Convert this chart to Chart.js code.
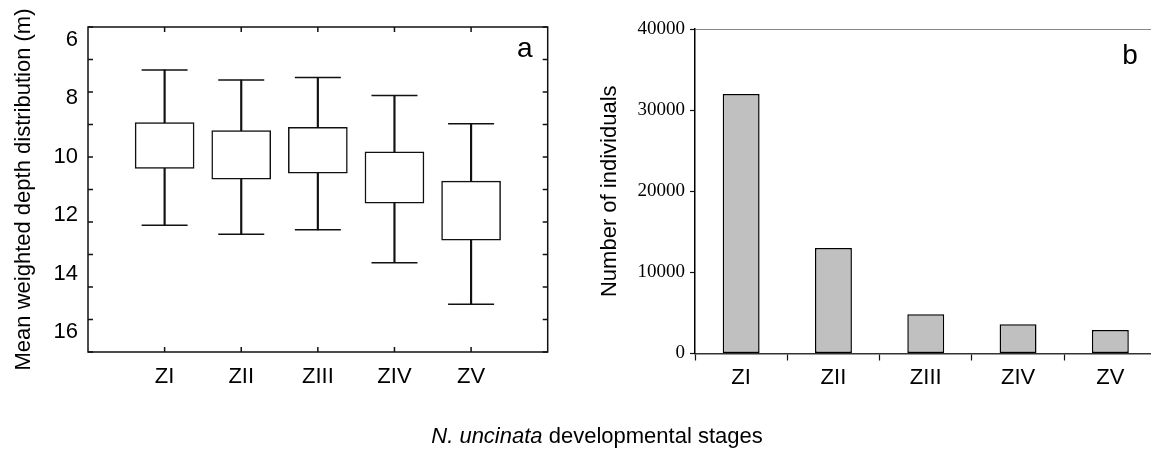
<!DOCTYPE html>
<html>
<head>
<meta charset="utf-8">
<script src="https://cdn.jsdelivr.net/npm/chart.js@4.4.0/dist/chart.umd.min.js"></script>
<style>
  html, body { margin:0; padding:0; background:#fff; overflow:hidden; width:1151px; height:456px; }
  #wrap { position:relative; width:1151px; height:456px; overflow:hidden; }
  #depth-chart { position:absolute; left:0; top:0; }
  #count-chart { position:absolute; left:560px; top:0; }
  #xtitle { position:absolute; left:0; width:1194px; top:423px; line-height:24px; text-align:center;
            font:22px "Liberation Sans", Arial, sans-serif; color:#000; white-space:nowrap; }
</style>
</head>
<body>
<div id="wrap">
  <canvas id="depth-chart" width="560" height="456"></canvas>
  <canvas id="count-chart" width="600" height="456"></canvas>
  <div id="xtitle"><i>N. uncinata</i> developmental stages</div>
</div>
<script>
// data
const stages = ['ZI', 'ZII', 'ZIII', 'ZIV', 'ZV']
const whiskerTop = [7.32, 7.63, 7.55, 8.11, 8.98]
const boxTop = [8.94, 9.19, 9.09, 9.84, 10.74]
const meanDepth = [9.61, 9.92, 9.86, 10.59, 11.65]
const boxBottom = [10.35, 10.68, 10.50, 11.42, 12.56]
const whiskerBottom = [12.10, 12.38, 12.24, 13.25, 14.53]
const depthLabels = [6, 8, 10, 12, 14, 16]
const individuals = [32000, 13000, 4850, 3600, 2900]
const countLabels = [0, 10000, 20000, 30000, 40000]
const panelLetters = ['a', 'b']

const SANS = '"Liberation Sans", Arial, sans-serif'
const SERIF = '"Liberation Serif", "Times New Roman", serif'
Chart.defaults.font.family = SANS
Chart.defaults.color = '#000'

function el(id){ return document.getElementById(id) }

// panel a: frame with inward ticks + letter
const frameTicks = {
  id: 'frameTicks',
  afterDatasetsDraw(chart) {
    const {ctx, chartArea: a, scales: {x, y}} = chart
    ctx.save()
    ctx.strokeStyle = '#111'
    ctx.lineWidth = 1.5
    ctx.strokeRect(a.left, a.top, a.width, a.height)
    ctx.beginPath()
    for(let v = y.min; v <= y.max; v++) {
      const py = y.getPixelForValue(v)
      ctx.moveTo(a.left, py); ctx.lineTo(a.left + 5, py)
      ctx.moveTo(a.right, py); ctx.lineTo(a.right - 5, py)
    }
    stages.forEach((s, i) => {
      const px = x.getPixelForValue(i + 1)
      ctx.moveTo(px, a.top); ctx.lineTo(px, a.top + 5)
      ctx.moveTo(px, a.bottom); ctx.lineTo(px, a.bottom - 5)
    })
    ctx.stroke()
    ctx.fillStyle = '#000'
    ctx.font = '28px ' + SANS
    ctx.textAlign = 'center'
    ctx.textBaseline = 'middle'
    ctx.fillText(panelLetters[0], a.right - 23, a.top + 22)
    ctx.restore()
  }
}

const letterB = {
  id: 'letterB',
  afterDraw(chart) {
    const {ctx, chartArea: a} = chart
    ctx.save()
    ctx.fillStyle = '#000'
    ctx.font = '28px ' + SANS
    ctx.textAlign = 'center'
    ctx.textBaseline = 'middle'
    ctx.fillText(panelLetters[1], a.right - 26.5, a.top + 27)
    ctx.restore()
  }
}

const pts = arr => arr.map((v, i) => ({x: i + 1, y: v}))
const span = (lo, hi) => lo.map((v, i) => ({x: i + 1, y: [v, hi[i]]}))

const depthChart = new Chart(el('depth-chart').getContext('2d'), {
  type: 'bar',
  data: {
    datasets: [
      { data: span(whiskerTop, boxTop), backgroundColor: '#111', borderWidth: 0, barThickness: 1.5, grouped: false },
      { data: span(boxBottom, whiskerBottom), backgroundColor: '#111', borderWidth: 0, barThickness: 1.5, grouped: false },
      { data: span(boxTop, boxBottom), backgroundColor: '#fff', borderColor: '#111', borderWidth: 1.5,
        borderSkipped: false, barThickness: 59, grouped: false },
      { type: 'scatter', data: pts(whiskerTop).concat(pts(whiskerBottom)), pointStyle: 'line',
        radius: 23, borderColor: '#111', borderWidth: 1.5 },
      { type: 'scatter', data: pts(meanDepth), pointStyle: 'rect', radius: 1, backgroundColor: '#000', borderWidth: 0 }
    ]
  },
  options: {
    responsive: false,
    animation: false,
    layout: { autoPadding: false, padding: { top: 27, right: 12.3, left: 0, bottom: 0 } },
    plugins: { legend: { display: false }, tooltip: { enabled: false } },
    scales: {
      x: {
        type: 'linear', min: 0, max: 6, offset: false,
        grid: { display: false, drawTicks: false },
        border: { display: false },
        ticks: { stepSize: 1, autoSkip: false, maxRotation: 0, padding: 12,
                 font: { size: 22 }, callback: v => stages[v - 1] || '' },
        afterFit: s => { s.height = 104 }
      },
      // data axis (hidden), the labelled axis below carries the printed tick labels
      y: { type: 'linear', reverse: true, min: 6, max: 16, display: false },
      yl: {
        type: 'linear', position: 'left', reverse: true, min: 5.555, max: 16.685,
        grid: { display: false, drawTicks: false },
        border: { display: false },
        afterBuildTicks: s => { s.ticks = depthLabels.map(v => ({value: v})) },
        ticks: { autoSkip: false, padding: 10, font: { size: 22 } },
        title: { display: true, text: 'Mean weighted depth distribution (m)', font: { size: 22 },
                 padding: { top: 10.8, bottom: 0 } },
        afterFit: s => { s.width = 88 }
      }
    }
  },
  plugins: [frameTicks]
})

const countChart = new Chart(el('count-chart').getContext('2d'), {
  type: 'bar',
  data: {
    labels: stages,
    datasets: [{
      data: individuals,
      backgroundColor: '#c0c0c0',
      borderColor: '#000',
      borderWidth: 1.5,
      borderSkipped: false,
      categoryPercentage: 1,
      barPercentage: 0.4
    }]
  },
  options: {
    responsive: false,
    animation: false,
    layout: { padding: { top: 29, right: 3.5, left: 0, bottom: 0 } },
    plugins: { legend: { display: false }, tooltip: { enabled: false } },
    scales: {
      x: {
        grid: { drawOnChartArea: false, tickLength: 7, tickColor: '#111', tickWidth: 1.2 },
        border: { color: '#333', width: 1.5 },
        ticks: { padding: 4.5, font: { size: 22 }, maxRotation: 0 },
        afterFit: s => { s.height = 102.5 }
      },
      y: {
        min: 0, max: 40000,
        grid: { color: c => c.tick && c.tick.value === 40000 ? '#888' : 'transparent',
                tickColor: '#111', tickLength: 5, tickWidth: 1.2 },
        border: { color: '#000', width: 1.5 },
        ticks: { stepSize: 10000, padding: 5, font: { family: SERIF, size: 19 },
                 callback: v => countLabels.includes(v) ? v : '' },
        title: { display: true, text: 'Number of individuals', font: { size: 22 },
                 padding: { top: 36.3, bottom: 0 } },
        afterFit: s => { s.width = 135 }
      }
    }
  },
  plugins: [letterB]
})
</script>
</body>
</html>
